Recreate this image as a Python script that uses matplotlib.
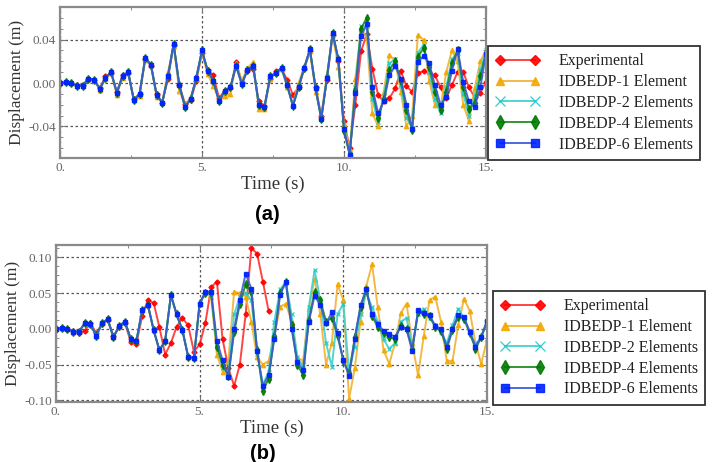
import numpy as np
import matplotlib
matplotlib.use("Agg")
import matplotlib.pyplot as plt
from matplotlib.ticker import MultipleLocator

# time grid (s), one sample every 0.2 s
time = np.round(np.arange(0, 15.01, 0.2), 1)
time_exp_b = time[:38]

labels = ["Experimental", "IDBEDP-1 Element", "IDBEDP-2 Elements",
          "IDBEDP-4 Elements", "IDBEDP-6 Elements"]
xtick_vals = [0, 5, 10, 15]
xtick_labels = ["0.", "5.", "10.", "15."]
yticks_a = [-0.04, 0.00, 0.04]
yticks_b = [-0.10, -0.05, 0.00, 0.05, 0.10]

# ---- panel (a) ----
early_a = [0.000, 0.0005, 0.000, -0.0025, -0.0025, 0.004, 0.003, -0.0055, 0.005, 0.010,
           -0.009, 0.006, 0.010, -0.016, -0.010, 0.023, 0.017, -0.011, -0.018, 0.006,
           0.036, -0.002, -0.022, -0.015, 0.005, 0.030, 0.011, 0.002, -0.017, -0.007,
           -0.004, 0.016, -0.001, 0.012, 0.016, -0.020, -0.022, 0.006, 0.009, 0.014,
           -0.002, -0.021, -0.004, 0.014, 0.031, -0.005, -0.033, 0.005, 0.046, 0.022]

exp_a = [0.000, 0.0005, 0.000, -0.002, -0.002, 0.004, 0.003, -0.005, 0.006, 0.009,
         -0.008, 0.007, 0.009, -0.015, -0.010, 0.022, 0.016, -0.010, -0.018, 0.004,
         0.035, -0.002, -0.019, -0.016, 0.002, 0.028, 0.012, 0.007, -0.014, -0.007,
         -0.005, 0.019, 0.001, 0.011, 0.013, -0.017, -0.021, 0.004, 0.011, 0.013,
         0.003, -0.011, -0.004, 0.013, 0.029, -0.004, -0.030, 0.003, 0.044, 0.020,
         -0.035, -0.060, -0.020, 0.029, 0.045, 0.013, -0.011, -0.017, -0.014, -0.005,
         0.011, -0.003, -0.008, 0.009, 0.011, 0.010, 0.007, -0.004, -0.014, -0.002,
         0.010, 0.010, -0.004, -0.013, -0.009, 0.001]

e1_a = [0.000, 0.0005, 0.000, -0.0025, -0.0025, 0.004, 0.003, -0.006, 0.004, 0.009,
        -0.011, 0.005, 0.011, -0.016, -0.012, 0.021, 0.017, -0.013, -0.017, 0.010,
        0.034, -0.007, -0.020, -0.013, 0.004, 0.027, 0.008, -0.003, -0.015, -0.012,
        -0.010, 0.018, 0.002, 0.014, 0.019, -0.024, -0.024, 0.004, 0.010, 0.013,
        -0.004, -0.020, 0.000, 0.015, 0.029, -0.008, -0.030, 0.008, 0.044, 0.015,
        -0.038, -0.062, 0.004, 0.050, 0.042, -0.028, -0.040, -0.008, 0.026, 0.020,
        -0.008, -0.040, -0.030, 0.044, 0.040, 0.002, -0.020, -0.022, 0.010, 0.030,
        0.020, -0.020, -0.035, -0.005, 0.020, 0.030]

e2_a = early_a + [-0.043, -0.065, -0.004, 0.052, 0.052, -0.015, -0.036, -0.012, 0.018, 0.022,
                  -0.002, -0.032, -0.041, 0.028, 0.035, 0.010, -0.015, -0.028, -0.004, 0.022,
                  0.028, -0.010, -0.030, -0.012, 0.012, 0.030]
e4_a = early_a + [-0.044, -0.066, -0.006, 0.050, 0.060, -0.008, -0.032, -0.015, 0.012, 0.020,
                  0.002, -0.025, -0.043, 0.024, 0.032, 0.015, -0.008, -0.025, -0.008, 0.018,
                  0.030, -0.004, -0.024, -0.018, 0.006, 0.028]
e6_a = early_a + [-0.042, -0.066, -0.009, 0.043, 0.054, -0.004, -0.028, -0.017, 0.007, 0.016,
                  0.004, -0.020, -0.042, 0.019, 0.025, 0.018, -0.002, -0.020, -0.013, 0.011,
                  0.031, 0.001, -0.017, -0.022, -0.004, 0.027]

# ---- panel (b) ----
early_b = [0.000, 0.0014, 0.000, -0.004, -0.004, 0.0075, 0.0065, -0.010, 0.0075, 0.0135,
           -0.012, 0.004, 0.010, -0.014, -0.017, 0.026, 0.033, -0.002, -0.030, -0.017,
           0.047, 0.020, -0.002, -0.039, -0.041]

exp_b = [0.000, 0.001, 0.000, -0.003, -0.006, -0.003, 0.008, -0.006, 0.006, 0.012,
         -0.010, 0.002, 0.008, -0.018, -0.021, 0.018, 0.040, 0.036, 0.002, -0.036,
         -0.020, 0.003, 0.015, 0.005, -0.032, -0.022, 0.008, 0.058, 0.066, -0.015,
         -0.055, -0.080, -0.050, 0.020, 0.113, 0.105, 0.066, 0.025]

e1_b = early_b + [0.035, 0.050, 0.045, -0.036, -0.060, -0.045, 0.052, 0.050, 0.045, 0.010,
                  -0.040, -0.050, -0.045, -0.010, 0.031, 0.035, 0.010, -0.040, -0.045, 0.028,
                  0.070, 0.020, -0.050, -0.020, 0.062, 0.040, -0.098, -0.055, 0.010, 0.060,
                  0.090, 0.030, -0.030, -0.049, -0.020, 0.022, 0.035, -0.020, -0.065, -0.010,
                  0.040, 0.045, 0.010, -0.045, -0.045, 0.005, 0.042, 0.025, -0.020, -0.049,
                  -0.015]
e2_b = early_b + [0.035, 0.050, 0.048, -0.025, -0.055, -0.060, 0.020, 0.045, 0.050, 0.040,
                  -0.035, -0.078, -0.060, 0.010, 0.055, 0.065, 0.020, -0.040, -0.055, 0.030,
                  0.082, 0.040, -0.020, -0.053, 0.020, 0.035, -0.060, -0.025, 0.020, 0.050,
                  0.030, 0.010, -0.015, -0.028, -0.020, 0.010, 0.015, -0.025, 0.020, 0.028,
                  0.015, 0.005, -0.005, -0.020, 0.005, 0.028, 0.015, -0.005, -0.022, -0.012,
                  0.010]
e4_b = early_b + [0.036, 0.050, 0.050, -0.025, -0.050, -0.066, -0.005, 0.035, 0.062, 0.052,
                  -0.030, -0.087, -0.070, -0.010, 0.050, 0.065, 0.005, -0.050, -0.065, 0.012,
                  0.052, 0.040, 0.010, 0.015, -0.010, -0.045, -0.062, -0.012, 0.030, 0.054,
                  0.018, 0.002, -0.006, -0.012, -0.014, 0.004, 0.000, -0.028, 0.024, 0.020,
                  0.018, 0.002, -0.003, -0.028, -0.002, 0.017, 0.014, -0.006, -0.028, -0.012,
                  0.010]
e6_b = early_b + [0.035, 0.052, 0.052, -0.017, -0.044, -0.067, 0.000, 0.040, 0.077, 0.056,
                  -0.031, -0.080, -0.065, -0.014, 0.047, 0.066, 0.000, -0.047, -0.058, 0.010,
                  0.046, 0.033, 0.0075, 0.023, -0.0065, -0.044, -0.066, -0.014, 0.033, 0.056,
                  0.020, 0.006, -0.003, -0.0075, -0.011, 0.003, -0.001, -0.031, 0.026, 0.022,
                  0.019, 0.004, 0.000, -0.025, 0.000, 0.019, 0.016, -0.004, -0.025, -0.011,
                  0.011]

styles = [
    dict(color="#ff3030", marker="D", ms=2.6, mfc="#ff0000", mec="#ff0000"),
    dict(color="#f2b233", marker="^", ms=3.2, mfc="#f2a900", mec="#f2a900"),
    dict(color="#3fd0d0", marker="x", ms=3.4, mfc="#1cc8c8", mec="#1cc8c8", mew=0.9),
    dict(color="#1a8c1a", marker="d", ms=3.8, mfc="#007a00", mec="#007a00"),
    dict(color="#3a5ad8", marker="s", ms=3.0, mfc="#0022ff", mec="#0022ff"),
]

plt.rcParams["font.family"] = ["Liberation Serif", "DejaVu Serif"]

fig = plt.figure(figsize=(7.13, 4.62), dpi=100)
ax_a = fig.add_axes([0.0842, 0.658, 0.5974, 0.327])
ax_b = fig.add_axes([0.0785, 0.1305, 0.6045, 0.339])


def style_axes(ax, yticks, ylim, yminor):
    ax.set_xlim(0, 15)
    ax.set_ylim(*ylim)
    ax.set_xticks(xtick_vals, labels=xtick_labels)
    ax.set_yticks(yticks, labels=["%.2f" % v for v in yticks])
    ax.xaxis.set_minor_locator(MultipleLocator(2.5))
    ax.yaxis.set_minor_locator(MultipleLocator(yminor))
    ax.tick_params(which="both", direction="in", top=True, right=True,
                   color="#777777", labelcolor="#666666", labelsize=9.5)
    ax.tick_params(which="major", length=4, pad=3)
    ax.tick_params(which="minor", length=2.5)
    ax.grid(True, which="major", linestyle=(0, (2, 2)), color="#555555", lw=0.9)
    for sp in ax.spines.values():
        sp.set_color("#8a8a8a")
        sp.set_linewidth(1.6)
    ax.set_xlabel("Time (s)", fontsize=13.5, color="#333333", labelpad=1)
    ax.set_ylabel("Displacement (m)", fontsize=12.5, color="#333333", labelpad=2)


series_a = [(time, exp_a), (time, e1_a), (time, e2_a), (time, e4_a), (time, e6_a)]
series_b = [(time_exp_b, exp_b), (time, e1_b), (time, e2_b), (time, e4_b), (time, e6_b)]

for ax, series, yt, yl, ym, leg_pos in [
        (ax_a, series_a, yticks_a, (-0.069, 0.070), 0.01, (0.684, 0.777)),
        (ax_b, series_b, yticks_b, (-0.102, 0.117), 0.0125, (0.691, 0.247))]:
    handles = []
    for (t, y), lab, st in zip(series, labels, styles):
        h, = ax.plot(t, y, lw=1.4, alpha=0.9, label=lab, **st)
        handles.append(h)
    style_axes(ax, yt, yl, ym)
    leg = fig.legend(handles=handles, loc="center left", bbox_to_anchor=leg_pos,
                     numpoints=2, markerscale=2.0, handlelength=2.8,
                     handletextpad=1.2, labelspacing=0.3, borderpad=0.45,
                     borderaxespad=0, fancybox=False, framealpha=1,
                     edgecolor="#333333", prop={"size": 11.5})
    leg.get_frame().set_linewidth(1.3)
    for txt in leg.get_texts():
        txt.set_color("#222222")

fig.text(0.375, 0.535, "(a)", fontsize=14.5, fontweight="bold",
         family="Liberation Sans", ha="center", va="center")
fig.text(0.369, 0.018, "(b)", fontsize=14.5, fontweight="bold",
         family="Liberation Sans", ha="center", va="center")

fig.savefig("out.png", dpi=100)
